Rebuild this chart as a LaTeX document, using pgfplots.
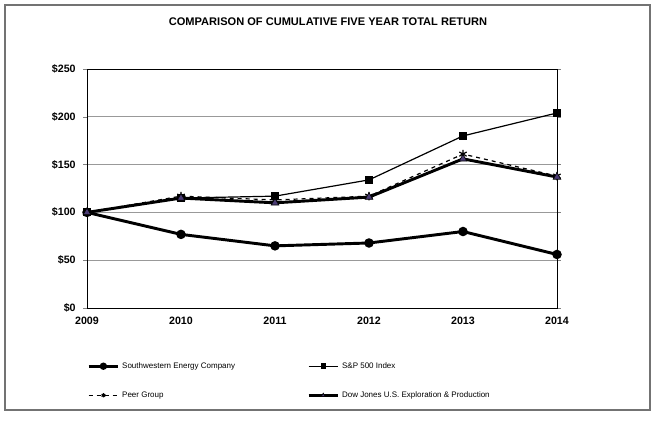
\documentclass[border=0pt]{standalone}
\usepackage{fontspec}
\setmainfont{Liberation Sans}
\usepackage{pgfplots}
\pgfplotsset{compat=1.18}
\definecolor{djfill}{HTML}{4A3B73}
\begin{document}
\begin{tikzpicture}
% page and outer frame (1 px = 0.75pt)
\path[fill=white] (0,0) rectangle (492pt,315.75pt);
\draw[black!55, line width=1.5pt] (3.75pt,8.25pt) rectangle (487.5pt,312pt);
\node[font=\fontsize{8.3}{9}\selectfont\bfseries] at (246pt,299.25pt)
  {COMPARISON OF CUMULATIVE FIVE YEAR TOTAL RETURN};
\begin{axis}[
  at={(65.25pt,84.75pt)}, anchor=south west,
  scale only axis, width=352.5pt, height=179.25pt,
  xmin=2009, xmax=2014, ymin=0, ymax=250,
  xtick={2009,2010,2011,2012,2013,2014},
  ytick={0,50,100,150,200,250},
  /pgf/number format/assume math mode=true,
  /pgf/number format/1000 sep={},
  yticklabel={\$\pgfmathprintnumber{\tick}},
  tick label style={font=\fontsize{8}{9}\selectfont\bfseries},
  yticklabel style={xshift=-2pt},
  xtick style={draw=none},
  tick align=outside, major tick length=3pt,
  ymajorgrids, grid style={black!40, line width=0.6pt},
  axis line style={line width=0.6pt},
  clip=false,
  legend columns=2,
  legend cell align=left,
  legend image code/.code={%
    \draw[mark repeat=2, mark phase=2, #1]
      plot coordinates {(0pt,0pt) (11pt,0pt) (22pt,0pt)};},
  legend image post style={mark size=1.6pt},
  legend style={draw=none, fill=none, inner sep=0pt,
    font=\fontsize{6}{7}\selectfont,
    at={(0,-0.215)}, anchor=north west,
    row sep=12pt,
    /tikz/every even column/.append style={column sep=52pt}},
]
\addplot[black, line width=2.2pt, mark=*, mark size=2.4pt]
coordinates {
  (2009, 100)
  (2010, 77)
  (2011, 65)
  (2012, 68)
  (2013, 80)
  (2014, 56)
};
\addlegendentry{Southwestern Energy Company}

\addplot[black, line width=0.9pt, mark=square*, mark size=2.6pt]
coordinates {
  (2009, 100)
  (2010, 115)
  (2011, 117)
  (2012, 134)
  (2013, 180)
  (2014, 204)
};
\addlegendentry{S\&P 500 Index}

\addplot[black, dashed, line width=0.9pt, mark=asterisk, mark size=3.2pt, mark options={solid}]
coordinates {
  (2009, 100)
  (2010, 117)
  (2011, 113)
  (2012, 117)
  (2013, 161)
  (2014, 138)
};
\addlegendentry{Peer Group}

\addplot[black, line width=2.2pt, mark=triangle*, mark size=3.3pt,
  mark options={fill=djfill, draw=black, line width=0.5pt}]
coordinates {
  (2009, 100)
  (2010, 115)
  (2011, 110)
  (2012, 116)
  (2013, 156)
  (2014, 137)
};
\addlegendentry{Dow Jones U.S. Exploration \& Production}
\end{axis}
\end{tikzpicture}
\end{document}
